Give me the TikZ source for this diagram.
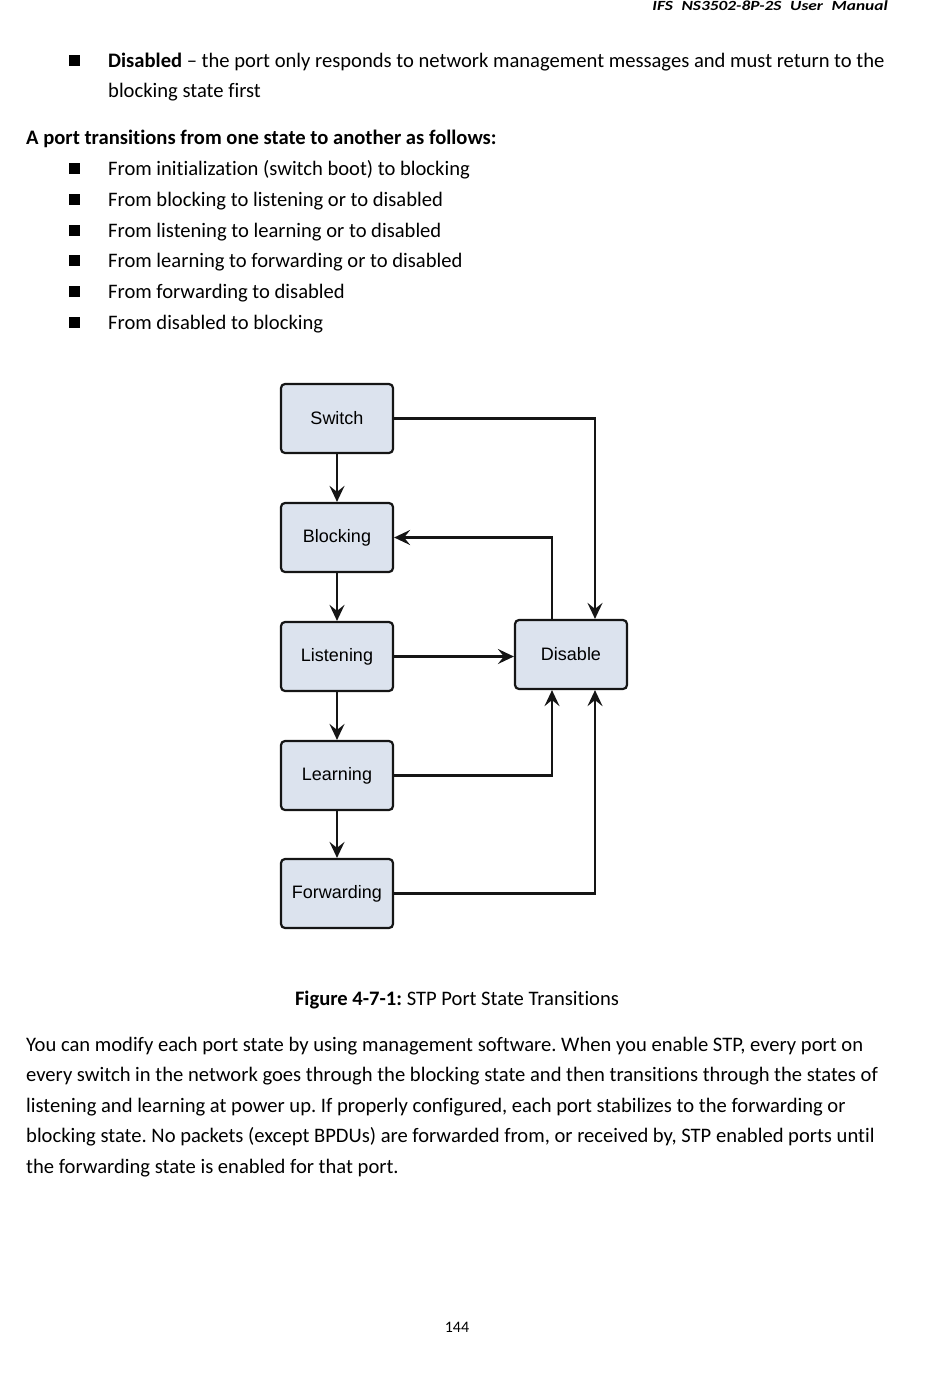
\documentclass[tikz,border=0pt]{standalone}
\usepackage{fontspec}
\setmainfont{Carlito}[Ligatures=NoCommon]
\newfontfamily\diagfont{Liberation Sans}
\usetikzlibrary{arrows.meta}
\definecolor{boxfill}{HTML}{DCE3EE}
\definecolor{boxline}{HTML}{151515}
\frenchspacing
\begin{document}
\begin{tikzpicture}[x=1pt,y=-1pt,
  statebox/.style={draw=boxline, line width=2.2pt, rounded corners=4pt, fill=boxfill,
    minimum width=112pt, minimum height=69pt, inner sep=0pt,
    font=\diagfont\fontsize{18}{20}\selectfont},
  conn/.style={line width=2.2pt, draw=boxline, -{Stealth[length=16pt,width=15pt,inset=6pt]}},
  txt/.style={anchor=base west, inner sep=0pt, font=\fontsize{20.6}{24}\selectfont},
  bul/.style={fill=black, draw=none, minimum size=11pt, inner sep=0pt, rectangle}
]
\useasboundingbox (0,0) rectangle (950,1386);

% header
\node[anchor=base east, inner sep=0pt, font=\fontsize{14}{16}\selectfont\bfseries\itshape] (hdr) at (888,11)
  {\scalebox{1.24}[1]{IFS\hskip 0.5em NS3502-8P-2S\hskip 0.5em User\hskip 0.5em Manual}};

% first bullet
\node[bul] (b0) at (74,61) {};
\node[txt] (t0a) at (108,68) {\textbf{Disabled} -- the port only responds to network management messages and must return to the};
\node[txt] (t0b) at (108,98) {blocking state first};

\node[txt] (tp) at (26,144) {\textbf{A port transitions from one state to another as follows:}};

\node[bul] (b1) at (74,168) {};
\node[txt] (t1) at (108,175) {From initialization (switch boot) to blocking};
\node[bul] (b2) at (74,199) {};
\node[txt] (t2) at (108,206) {From blocking to listening or to disabled};
\node[bul] (b3) at (74,230) {};
\node[txt] (t3) at (108,237) {From listening to learning or to disabled};
\node[bul] (b4) at (74,260) {};
\node[txt] (t4) at (108,267) {From learning to forwarding or to disabled};
\node[bul] (b5) at (74,291) {};
\node[txt] (t5) at (108,298) {From forwarding to disabled};
\node[bul] (b6) at (74,322) {};
\node[txt] (t6) at (108,329) {From disabled to blocking};

% diagram
\node[statebox] (sw) at (337,418.5) {Switch};
\node[statebox] (bl) at (337,537.5) {Blocking};
\node[statebox] (li) at (337,656.5) {Listening};
\node[statebox] (le) at (337,775.5) {Learning};
\node[statebox] (fw) at (337,893.5) {Forwarding};
\node[statebox] (dis) at (571,654.5) {Disable};

\coordinate (d1) at (595,0);
\coordinate (d2) at (552,0);

\draw[conn] (sw) -- (bl);
\draw[conn] (bl) -- (li);
\draw[conn] (li) -- (le);
\draw[conn] (le) -- (fw);
\draw[conn] (sw.east) -| (d1 |- dis.north);
\draw[conn] (d2 |- dis.north) |- (bl.east);
\draw[conn] (li.east) -- (li.east -| dis.west);
\draw[conn] (le.east) -| (d2 |- dis.south);
\draw[conn] (fw.east) -| (d1 |- dis.south);

% caption
\node[anchor=base, inner sep=0pt, font=\fontsize{20.6}{24}\selectfont] (cap) at (457,1005)
  {\textbf{Figure 4-7-1:} STP Port State Transitions};

% paragraph
\node[txt] (p1) at (26,1051) {You can modify each port state by using management software. When you enable STP, every port on};
\node[txt] (p2) at (26,1081) {every switch in the network goes through the blocking state and then transitions through the states of};
\node[txt] (p3) at (26,1112) {listening and learning at power up. If properly configured, each port stabilizes to the forwarding or};
\node[txt] (p4) at (26,1142) {blocking state. No packets (except BPDUs) are forwarded from, or received by, STP enabled ports until};
\node[txt] (p5) at (26,1173) {the forwarding state is enabled for that port.};

% page number
\node[anchor=base, inner sep=0pt, font=\fontsize{16}{18}\selectfont] (pg) at (457,1332) {144};
\end{tikzpicture}
\end{document}
